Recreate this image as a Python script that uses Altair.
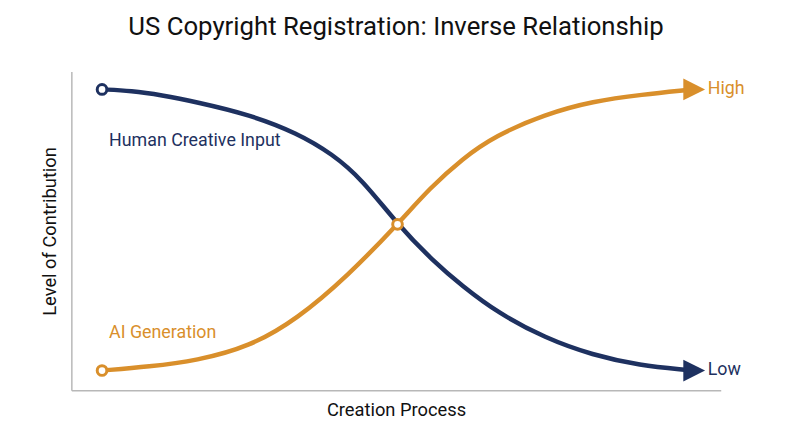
import altair as alt
import pandas as pd

NAVY = "#1e3160"
ORANGE = "#d98f2b"

# Human creative input curve
human_x = [0, 5, 10, 16, 25, 33, 39, 44, 50, 56, 61, 67, 75, 83, 91, 99]
human_y = [100, 99.5, 98, 95.5, 91, 84.5, 77, 68, 52, 39, 30, 20.5, 11.5, 5.5, 1.8, 0.2]

# AI generation curve
ai_x = [0, 8, 16, 25, 33, 41.5, 50, 55.5, 61, 66.5, 75, 83, 91.5, 99]
ai_y = [0, 1.4, 3.5, 8.5, 18.3, 33.5, 52, 65, 75.4, 83.5, 91.2, 95.8, 98.2, 99.8]

series_names = ["Human Creative Input", "AI Generation"]
end_labels = ["Low", "High"]

rows = []
for i, (x, y) in enumerate(zip(human_x, human_y)):
    rows.append({"series": series_names[0], "order": i, "x": x, "y": y})
for i, (x, y) in enumerate(zip(ai_x, ai_y)):
    rows.append({"series": series_names[1], "order": i, "x": x, "y": y})
curves = pd.DataFrame(rows)

xs = alt.Scale(domain=[-5.19, 104.69], nice=False, zero=False)
ys = alt.Scale(domain=[-7.04, 106.34], nice=False, zero=False)
cs = alt.Scale(domain=series_names, range=[NAVY, ORANGE])

X = alt.X("x:Q", scale=xs, title="Creation Process",
          axis=alt.Axis(labels=False, ticks=False, grid=False, domainColor="#b8b8b8",
                        domainWidth=1.5, titleFont="Roboto", titleFontSize=18.5,
                        titleFontWeight="normal", titleColor="#111111", titlePadding=10))
Y = alt.Y("y:Q", scale=ys, title="Level of Contribution",
          axis=alt.Axis(labels=False, ticks=False, grid=False, domainColor="#b8b8b8",
                        domainWidth=1.5, titleFont="Roboto", titleFontSize=18.5,
                        titleFontWeight="normal", titleColor="#111111", titlePadding=12))

lines = alt.Chart(curves).mark_line(strokeWidth=4.5, interpolate="basis", strokeCap="round").encode(
    x=X, y=Y,
    color=alt.Color("series:N", scale=cs, legend=None),
    order="order:Q",
    detail="series:N",
)

arrows_df = pd.DataFrame({
    "series": series_names,
    "x": [100.2, 100.2],
    "y": [0, 100],
})
arrows = alt.Chart(arrows_df).mark_point(
    shape="M-1,-1L1,0L-1,1Z", size=484, filled=True, opacity=1
).encode(x=alt.X("x:Q", scale=xs), y=alt.Y("y:Q", scale=ys),
         color=alt.Color("series:N", scale=cs, legend=None))

circles_df = pd.DataFrame({
    "series": [series_names[0], series_names[1], series_names[1]],
    "x": [0, 0, 50],
    "y": [100, 0, 52],
})
circles = alt.Chart(circles_df).mark_point(
    shape="circle", size=95, filled=False, fill="white", fillOpacity=1, strokeWidth=3, opacity=1
).encode(x=alt.X("x:Q", scale=xs), y=alt.Y("y:Q", scale=ys),
         stroke=alt.Stroke("series:N", scale=cs, legend=None))

labels_df = pd.DataFrame({
    "text": [series_names[0], series_names[1], end_labels[1], end_labels[0]],
    "series": [series_names[0], series_names[1], series_names[1], series_names[0]],
    "x": [1.2, 1.2, 102.5, 102.5],
    "y": [81.7, 13.4, 100, 0],
})
labels = alt.Chart(labels_df).mark_text(
    align="left", baseline="middle", font="Roboto", fontSize=18, fontWeight="normal"
).encode(x=alt.X("x:Q", scale=xs), y=alt.Y("y:Q", scale=ys), text="text:N",
         color=alt.Color("series:N", scale=cs, legend=None))

chart = alt.layer(lines, arrows, circles, labels).properties(
    width=656, height=322,
    autosize="none",
    padding={"left": 64, "top": 62, "right": 72, "bottom": 55},
    title=alt.TitleParams("US Copyright Registration: Inverse Relationship",
                          font="Roboto", fontSize=26, fontWeight="normal",
                          color="#111111", anchor="middle", offset=32),
).configure_view(stroke=None)

chart.save("out.html", embed_options={"renderer": "svg", "actions": False})
